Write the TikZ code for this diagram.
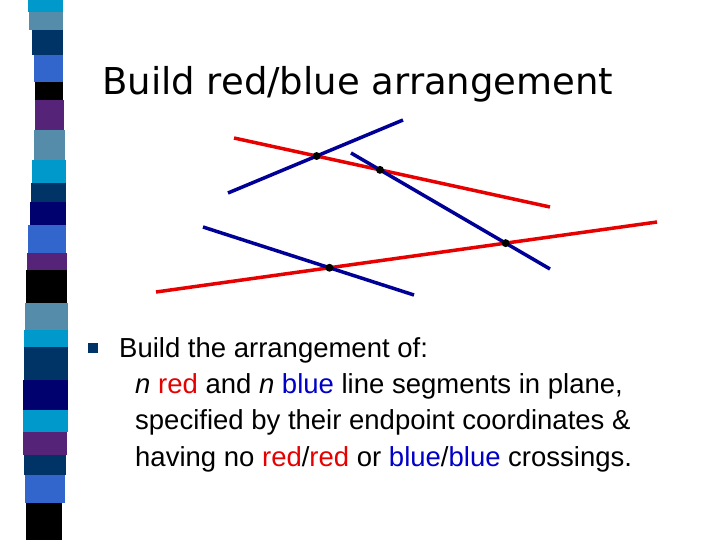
\documentclass[tikz,border=0pt]{standalone}
\usepackage{fontspec}
\setmainfont{Liberation Sans}
\newfontfamily\titlefont{DejaVu Sans}
\usetikzlibrary{intersections}
\definecolor{rred}{RGB}{230,0,0}
\definecolor{bblue}{RGB}{0,0,150}
\definecolor{navy}{RGB}{0,51,102}
\definecolor{cyanb}{RGB}{0,153,204}
\definecolor{grayb}{RGB}{85,140,170}
\definecolor{royal}{RGB}{51,102,204}
\definecolor{purp}{RGB}{85,35,120}
\definecolor{dblue}{RGB}{0,0,110}
\definecolor{tblue}{RGB}{0,0,200}
\tikzset{redseg/.style={draw=rred,line width=3.5bp},
 blueseg/.style={draw=bblue,line width=3.5bp},
 xdot/.style={fill=black,circle,inner sep=2.8bp},
 body/.style={anchor=base west,inner sep=0,font=\fontsize{27.5bp}{32bp}\selectfont}}
\begin{document}
\begin{tikzpicture}[x=1bp,y=-1bp]
\useasboundingbox (0,0) rectangle (720,540);
\fill[white] (0,0) rectangle (720,540);
% stripe
\foreach \a/\b/\c/\l/\r in {0/12/cyanb/28/63,12/30/grayb/29/63,30/55/navy/32/63,55/82/royal/34/63,82/100/black/35/63,100/130/purp/35/64,130/160/grayb/34/65,160/183/cyanb/32/66,183/202/navy/31/66,202/225/dblue/30/66,225/253/royal/28/66,253/270/purp/27/67,270/303/black/26/67,303/330/grayb/25/68,330/347/cyanb/24/68,347/380/navy/24/68,380/410/dblue/23/68,410/432/cyanb/23/68,432/455/purp/23/67,455/475/navy/24/66,475/503/royal/25/65,503/540/black/26/62}
  \fill[\c] (\l,\a) rectangle (\r,\b);
\node[anchor=base west,inner sep=0,font=\titlefont\fontsize{37bp}{44bp}\selectfont] (title) at (102,95) {Build red/blue arrangement};
% segments
\coordinate (r1a) at (234,138); \coordinate (r1b) at (550,207);
\coordinate (r2a) at (156,292); \coordinate (r2b) at (657,222);
\coordinate (b1a) at (228,193); \coordinate (b1b) at (403,120);
\coordinate (b2a) at (351,153); \coordinate (b2b) at (550,269);
\coordinate (b3a) at (203,227); \coordinate (b3b) at (414,295);
\path[redseg,name path=r1] (r1a) -- (r1b);
\path[redseg,name path=r2] (r2a) -- (r2b);
\path[blueseg,name path=b1] (b1a) -- (b1b);
\path[blueseg,name path=b2] (b2a) -- (b2b);
\path[blueseg,name path=b3] (b3a) -- (b3b);
\path[name intersections={of=r1 and b1,name=i}] (i-1) node[xdot] (x1) {};
\path[name intersections={of=r1 and b2,name=j}] (j-1) node[xdot] (x2) {};
\path[name intersections={of=r2 and b2,name=k}] (k-1) node[xdot] (x3) {};
\path[name intersections={of=r2 and b3,name=m}] (m-1) node[xdot] (x4) {};
% bullet
\fill[navy] (88,343) rectangle (98,353);
\node[body] (l1) at (119,357) {Build the arrangement of:};
\node[body] (l2) at (135,393) {\textit{n} \textcolor{rred}{red} and \textit{n} \textcolor{tblue}{blue} line segments in plane,};
\node[body] (l3) at (135,429) {specified by their endpoint coordinates \&};
\node[body] (l4) at (135,466) {having no \textcolor{rred}{red}/\textcolor{rred}{red} or \textcolor{tblue}{blue}/\textcolor{tblue}{blue} crossings.};
\end{tikzpicture}
\end{document}
